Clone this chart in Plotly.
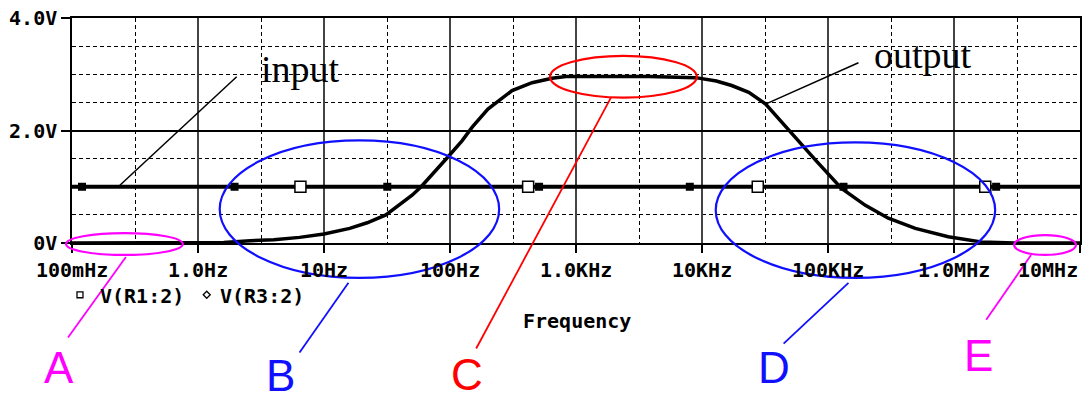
import math
import plotly.graph_objects as go

# ---------------- data ----------------
x_tick_vals = [0.1, 1, 10, 100, 1e3, 1e4, 1e5, 1e6, 1e7]
x_tick_text = ["100mHz", "1.0Hz", "10Hz", "100Hz", "1.0KHz", "10KHz", "100KHz", "1.0MHz", "10MHz"]
y_tick_vals = [0, 2, 4]
y_tick_text = ["0V", "2.0V", "4.0V"]

# input V(R1:2): flat 1.0 V
input_freq = [0.1, 1e7]
input_volt = [1.0, 1.0]
input_marker_filled_freq = [0.12, 1.95, 31.8, 509, 8000, 132700, 2.16e6]
input_marker_open_freq = [6.5, 417, 27700, 1.77e6]

# output V(R3:2): band-pass response
output_freq = [0.1, 0.5, 1.0, 1.6, 2.6, 4.0, 6.4, 10, 16, 22, 31, 40, 50, 59, 75, 99,
               125, 150, 200, 245, 311, 448, 645, 833, 1500, 3800, 8900, 13000, 17200,
               23500, 32000, 42800, 55300, 80000, 128000, 198000, 301000, 493000,
               900000, 1.64e6, 3.05e6, 1e7]
output_volt = [0.0, 0.0, 0.0, 0.01, 0.04, 0.06, 0.10, 0.16, 0.26, 0.36, 0.50, 0.68, 0.85,
               1.0, 1.25, 1.56, 1.82, 2.06, 2.38, 2.53, 2.71, 2.85, 2.93, 2.96, 2.96, 2.96,
               2.94, 2.88, 2.80, 2.68, 2.47, 2.15, 1.88, 1.47, 0.97, 0.67, 0.44, 0.26,
               0.11, 0.02, 0.0, 0.0]

# ---------------- layout geometry ----------------
W, H = 1088, 401
L, R, T, B = 72, 6, 17, 158
PW, PH = W - L - R, H - T - B


def px(x):
    return (x - L) / PW


def py(y):
    return (H - B - y) / PH


MONO = "DejaVu Sans Mono"
SERIF = "Liberation Serif"
SANS = "Liberation Sans"
MAG, BLUE, RED = "#ff00ff", "#1010ff", "#ff0000"

fig = go.Figure()

fig.add_trace(go.Scatter(x=output_freq, y=output_volt, mode="lines",
                         line=dict(color="black", width=3.5), hoverinfo="skip",
                         showlegend=False))
fig.add_trace(go.Scatter(x=input_freq, y=input_volt, mode="lines",
                         line=dict(color="black", width=4), showlegend=False))
fig.add_trace(go.Scatter(x=input_marker_filled_freq, y=[1.0] * len(input_marker_filled_freq),
                         mode="markers", showlegend=False,
                         marker=dict(symbol="square", size=8, color="black")))
fig.add_trace(go.Scatter(x=input_marker_open_freq, y=[1.0] * len(input_marker_open_freq),
                         mode="markers", showlegend=False,
                         marker=dict(symbol="square", size=11, color="white",
                                     line=dict(color="black", width=1.5))))

minor_x = [10 ** (k + 0.5) for k in range(-1, 7)]

fig.update_xaxes(type="log", range=[-1, 7], tickvals=x_tick_vals, showticklabels=False,
                 showline=True, linecolor="black", linewidth=1.5, mirror=True,
                 ticks="outside", ticklen=8, tickcolor="black", tickwidth=1.5,
                 showgrid=True, gridcolor="#444444", gridwidth=1.5,
                 minor=dict(tickvals=minor_x, showgrid=True, gridcolor="black",
                            griddash="4px,3px", gridwidth=1),
                 zeroline=False)
fig.update_yaxes(range=[0, 4], tickvals=y_tick_vals, ticktext=y_tick_text,
                 showline=True, linecolor="black", linewidth=1.5, mirror=True,
                 ticks="outside", ticklen=9, tickcolor="black", tickwidth=1.5,
                 tickfont=dict(family=MONO, size=20, color="black", weight="bold"),
                 showgrid=True, gridcolor="black", gridwidth=1.5,
                 minor=dict(tickvals=[0.5, 1, 1.5, 2.5, 3, 3.5], showgrid=True,
                            gridcolor="black", griddash="4px,3px", gridwidth=1),
                 zeroline=False)

shapes = []
# white boxes behind the "input" / "output" labels
shapes.append(dict(type="rect", xref="paper", yref="paper", layer="between",
                   x0=px(248), x1=px(362), y0=py(100), y1=py(38),
                   fillcolor="white", line=dict(width=0)))
shapes.append(dict(type="rect", xref="paper", yref="paper", layer="between",
                   x0=px(858), x1=px(993), y0=py(82), y1=py(33),
                   fillcolor="white", line=dict(width=0)))
# leader lines for input/output
shapes.append(dict(type="line", xref="paper", yref="paper", x0=px(237), y0=py(76),
                   x1=px(120), y1=py(185), line=dict(color="black", width=1.5)))
shapes.append(dict(type="line", xref="paper", yref="paper", x0=px(860), y0=py(62),
                   x1=px(768), y1=py(103), line=dict(color="black", width=1.5)))

# ellipses (cx, cy, rx, ry, color)
ellipses = [(124.5, 244, 58.5, 11, MAG), (360, 209, 140, 69, BLUE),
            (624.5, 76, 73.5, 21, RED), (857, 210, 140, 68, BLUE),
            (1047, 245, 31, 10, MAG)]
for cx, cy, rx, ry, c in ellipses:
    shapes.append(dict(type="circle", xref="paper", yref="paper", layer="above",
                       x0=px(cx - rx), x1=px(cx + rx), y0=py(cy + ry), y1=py(cy - ry),
                       line=dict(color=c, width=2.2)))

# leader lines for letters
leaders = [(126, 257, 68, 338, MAG), (349, 283, 300, 353, BLUE),
           (612, 97, 477, 349, RED), (850, 283, 785, 344, BLUE),
           (1033, 255, 988, 320, MAG)]
for x0, y0, x1, y1, c in leaders:
    shapes.append(dict(type="line", xref="paper", yref="paper", layer="above",
                       x0=px(x0), y0=py(y0), x1=px(x1), y1=py(y1),
                       line=dict(color=c, width=1.8)))

# legend symbols: small open square and small open diamond
shapes.append(dict(type="rect", xref="paper", yref="paper", layer="above",
                   x0=px(77), x1=px(83), y0=py(298), y1=py(292),
                   fillcolor="white", line=dict(color="black", width=1.3)))
shapes.append(dict(type="path", xref="paper", yref="paper", layer="above",
                   path="M {0},{1} L {2},{3} L {4},{5} L {6},{7} Z".format(
                       px(203.5), py(295), px(207), py(291.5),
                       px(210.5), py(295), px(207), py(298.5)),
                   fillcolor="white", line=dict(color="black", width=1.3)))

annotations = []


def ann(text, x, y, size, family, color="black", xanchor="center", weight="normal",
        xref="paper"):
    annotations.append(dict(text=text, x=x if xref == "x" else px(x), y=py(y),
                            xref=xref, yref="paper",
                            showarrow=False, xanchor=xanchor, yanchor="middle",
                            font=dict(family=family, size=size, color=color, weight=weight)))


# x tick labels placed on the log axis (last one kept inside the frame)
for i, (val, txt) in enumerate(zip(x_tick_vals, x_tick_text)):
    last = i == len(x_tick_vals) - 1
    ann(txt, math.log10(val), 270, 20, MONO, xanchor="right" if last else "center",
        weight="bold", xref="x")

ann("input", 301, 68, 38, SERIF)
ann("output", 925, 54, 38, SERIF)
for letter, x, y, c in [("A", 59, 368, MAG), ("B", 281, 376, BLUE), ("C", 468, 375, RED),
                        ("D", 775, 368, BLUE), ("E", 980, 356, MAG)]:
    ann(letter, x, y, 44, SANS, c)

ann("Frequency", 578, 321, 20, MONO, weight="bold")
ann("V(R1:2)", 98, 296, 20, MONO, xanchor="left", weight="bold")
ann("V(R3:2)", 218, 296, 20, MONO, xanchor="left", weight="bold")

fig.update_layout(width=W, height=H, margin=dict(l=L, r=R, t=T, b=B, pad=0),
                  paper_bgcolor="white", plot_bgcolor="white",
                  shapes=shapes, annotations=annotations, showlegend=False)

fig.write_html("out.html")
